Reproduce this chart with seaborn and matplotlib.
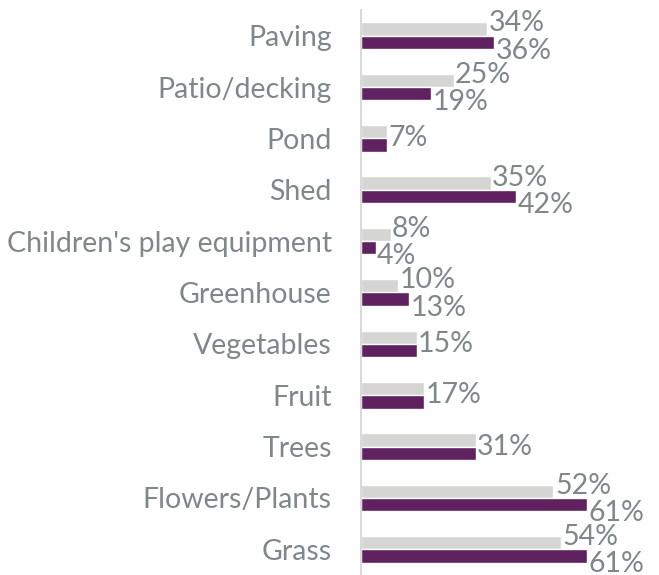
import matplotlib
matplotlib.use("Agg")
import matplotlib.pyplot as plt
import seaborn as sns
import pandas as pd

categories = ["Paving", "Patio/decking", "Pond", "Shed", "Children's play equipment",
              "Greenhouse", "Vegetables", "Fruit", "Trees", "Flowers/Plants", "Grass"]
series_names = ["Series 1", "Series 2"]
values_1 = [34, 25, 7, 35, 8, 10, 15, 17, 31, 52, 54]
values_2 = [36, 19, 7, 42, 4, 13, 15, 17, 31, 61, 61]

df = pd.DataFrame({
    "category": categories * 2,
    "series": [series_names[0]] * len(categories) + [series_names[1]] * len(categories),
    "value": values_1 + values_2,
})

sns.set_theme(style="white")
plt.rcParams['font.family'] = ['Lato', 'DejaVu Sans']

TEXT = "#80878b"
FS = 20.5
fig = plt.figure(figsize=(6.59, 5.75), dpi=100)
ax = fig.add_axes([361 / 659, 0, 1 - 361 / 659, 1 - 10 / 575])
sns.barplot(data=df, y="category", x="value", hue="series", order=categories,
            hue_order=series_names, palette=["#d5d5d3", "#5f2160"], orient="h",
            width=0.52, ax=ax, legend=False, saturation=1)
ax.set_xlim(0, 80.5)
ax.set_ylim(len(categories) - 0.5, -0.5)
ax.set_xlabel("")
ax.set_ylabel("")
ax.set_xticks([])
for s in ["top", "right", "bottom"]:
    ax.spines[s].set_visible(False)
ax.spines["left"].set_color("#d9d9d9")
ax.spines["left"].set_linewidth(1.5)
ax.tick_params(axis="y", length=0, pad=21, labelsize=FS, labelcolor=TEXT)

c0, c1 = ax.containers[0], ax.containers[1]
for i, (b0, b1) in enumerate(zip(c0, c1)):
    v0, v1 = values_1[i], values_2[i]
    if v0 == v1:
        ax.annotate(f"{v0}%", (b0.get_width(), i), xytext=(1, 0), textcoords="offset points",
                    va="center", ha="left", fontsize=FS, color=TEXT)
    else:
        y0 = b0.get_y() + b0.get_height() / 2
        y1 = b1.get_y() + b1.get_height() / 2
        ax.annotate(f"{v0}%", (b0.get_width(), y0), xytext=(1, 4), textcoords="offset points",
                    va="center", ha="left", fontsize=FS, color=TEXT)
        ax.annotate(f"{v1}%", (b1.get_width(), y1), xytext=(1, -6), textcoords="offset points",
                    va="center", ha="left", fontsize=FS, color=TEXT)

fig.savefig("out.png", dpi=100)
